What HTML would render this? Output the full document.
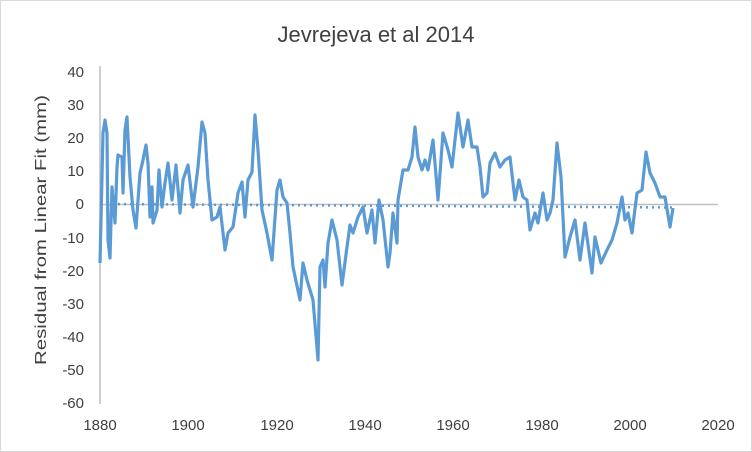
<!DOCTYPE html>
<html><head><meta charset="utf-8"><style>
html,body{margin:0;padding:0;background:#fff}
svg{display:block;font-family:"Liberation Sans",sans-serif}
</style></head><body>
<svg width="752" height="452" viewBox="0 0 752 452">
<rect x="0.5" y="0.5" width="751" height="451" fill="#fff" stroke="#d9d9d9"/>
<text x="376" y="42" font-size="22" fill="#404040" text-anchor="middle">Jevrejeva et al 2014</text>
<g font-size="15" fill="#404040" text-anchor="end">
<text x="84" y="77">40</text><text x="84" y="110">30</text><text x="84" y="143">20</text>
<text x="84" y="176">10</text><text x="84" y="209">0</text><text x="84" y="243">-10</text>
<text x="84" y="276">-20</text><text x="84" y="309">-30</text><text x="84" y="342">-40</text>
<text x="84" y="375">-50</text><text x="84" y="408">-60</text>
</g>
<g font-size="15" fill="#404040" text-anchor="middle">
<text x="100" y="430">1880</text><text x="188" y="430">1900</text><text x="277" y="430">1920</text>
<text x="365" y="430">1940</text><text x="453" y="430">1960</text><text x="542" y="430">1980</text>
<text x="630" y="430">2000</text><text x="718" y="430">2020</text>
</g>
<text transform="translate(46,230) rotate(-90)" font-size="16" fill="#404040" text-anchor="middle" textLength="270" lengthAdjust="spacingAndGlyphs">Residual from Linear Fit (mm)</text>
<line x1="100" y1="66" x2="100" y2="404" stroke="#bfbfbf" stroke-width="1.5"/>
<line x1="100" y1="204.5" x2="718" y2="204.5" stroke="#bfbfbf" stroke-width="1.5"/>
<line x1="100" y1="204" x2="673" y2="207.5" stroke="#5b9bd5" stroke-width="2.5" stroke-dasharray="2,4"/>
<polyline fill="none" stroke="#5b9bd5" stroke-width="3.2" stroke-linejoin="round" points="100,263 103,133 105,120 107,133 108,240 110,258 112,187 113,200 115,223 117,167 118,155 122,157 123,193 125,130 127,117 128,137 130,177 133,210 136,228 140,173 143,160 146,145 148,163 150,217 152,187 153,223 157,210 159,170 162,207 165,183 168,163 172,200 176,165 180,213 183,180 188,165 193,207 198,167 202,122 205,133 208,180 212,220 217,217 220,207 225,250 228,233 233,227 238,193 242,182 245,217 248,180 252,172 255,115 258,150 262,210 267,233 272,260 277,190 280,180 283,197 287,203 290,233 293,267 300,300 303,263 307,280 310,290 313,300 318,360 320,267 323,260 325,287 328,243 332,220 337,240 342,285 347,247 350,225 353,233 358,217 363,207 367,233 372,210 375,243 379,200 383,220 388,267 390,253 393,213 397,243 398,200 403,170 408,170 412,157 415,127 418,157 422,170 425,160 428,170 433,140 435,163 438,200 443,133 448,150 452,167 458,113 463,147 468,120 472,147 477,147 480,167 483,197 487,193 490,163 495,153 500,167 505,160 510,157 515,200 519,180 523,197 527,200 530,230 535,213 538,223 543,193 547,220 550,213 553,200 557,143 561,177 565,257 570,237 575,220 580,260 585,223 592,273 595,237 601,263 607,250 612,240 617,223 622,197 625,220 628,213 632,233 637,193 642,190 646,152 650,173 655,183 660,197 665,197 670,227 673,208"/>
</svg>
</body></html>
